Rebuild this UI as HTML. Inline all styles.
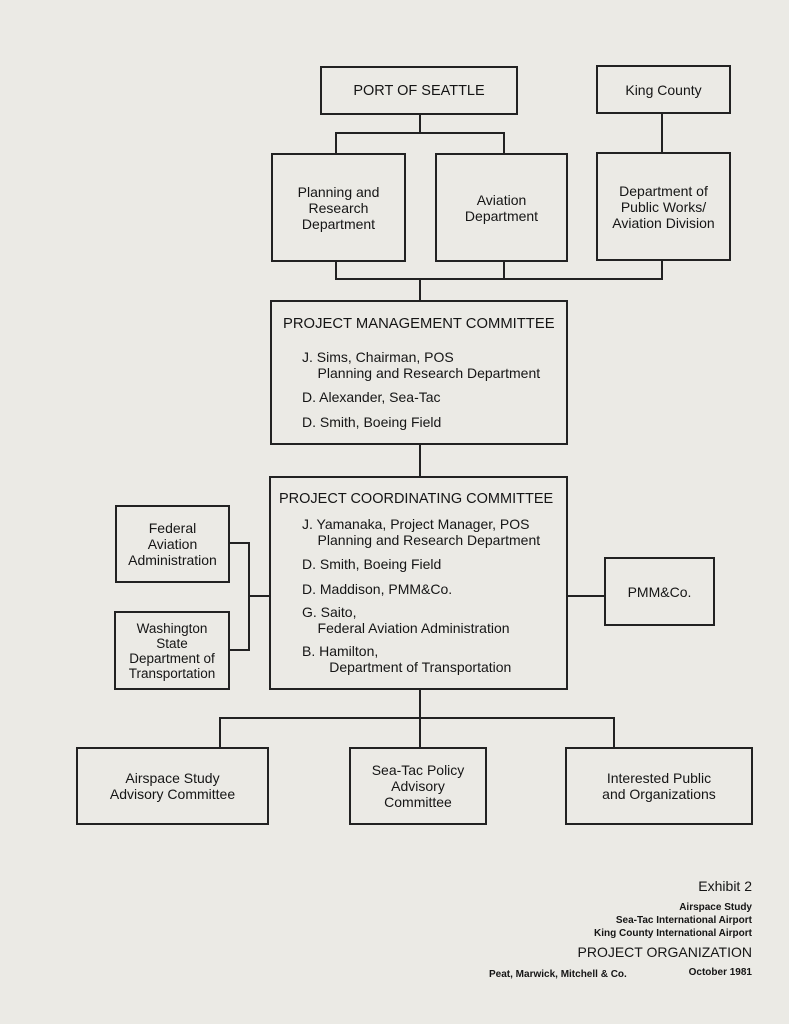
<!DOCTYPE html>
<html><head><meta charset="utf-8"><style>
body{margin:0;background:#ebeae5;}
.w{position:relative;width:789px;height:1024px;font-family:"Liberation Sans",sans-serif;color:#151515;}
.b{position:absolute;border:2px solid #222;box-sizing:border-box;display:flex;align-items:center;justify-content:center;text-align:center;font-size:14px;line-height:16px;}
.l{position:absolute;background:#222;}
.t{position:absolute;font-size:14px;line-height:16px;white-space:nowrap;}
.r{position:absolute;right:37px;text-align:right;white-space:nowrap;}
</style></head><body><div class="w">
<div class="b" style="left:320px;top:66px;width:198px;height:49px;font-size:14.5px">PORT OF SEATTLE</div>
<div class="b" style="left:596px;top:65px;width:135px;height:49px">King County</div>
<div class="b" style="left:271px;top:153px;width:135px;height:109px">Planning and<br>Research<br>Department</div>
<div class="b" style="left:435px;top:153px;width:133px;height:109px">Aviation<br>Department</div>
<div class="b" style="left:596px;top:152px;width:135px;height:109px">Department of<br>Public Works/<br>Aviation Division</div>
<div class="l" style="left:419px;top:114px;width:2px;height:20px"></div>
<div class="l" style="left:335px;top:132px;width:170px;height:2px"></div>
<div class="l" style="left:335px;top:132px;width:2px;height:21px"></div>
<div class="l" style="left:503px;top:132px;width:2px;height:21px"></div>
<div class="l" style="left:661px;top:113px;width:2px;height:39px"></div>
<div class="l" style="left:335px;top:261px;width:2px;height:19px"></div>
<div class="l" style="left:503px;top:261px;width:2px;height:19px"></div>
<div class="l" style="left:661px;top:260px;width:2px;height:20px"></div>
<div class="l" style="left:335px;top:278px;width:328px;height:2px"></div>
<div class="l" style="left:419px;top:278px;width:2px;height:22px"></div>
<div class="b" style="left:270px;top:300px;width:298px;height:145px"></div>
<div class="t" style="left:283px;top:316px;font-size:14.8px">PROJECT MANAGEMENT COMMITTEE</div>
<div class="t" style="left:302px;top:349px">J. Sims, Chairman, POS<br>&nbsp;&nbsp;&nbsp;&nbsp;Planning and Research Department</div>
<div class="t" style="left:302px;top:389px">D. Alexander, Sea-Tac</div>
<div class="t" style="left:302px;top:414px">D. Smith, Boeing Field</div>
<div class="l" style="left:419px;top:444px;width:2px;height:32px"></div>
<div class="b" style="left:269px;top:476px;width:299px;height:214px"></div>
<div class="t" style="left:279px;top:491px;font-size:14.5px">PROJECT COORDINATING COMMITTEE</div>
<div class="t" style="left:302px;top:516px">J. Yamanaka, Project Manager, POS<br>&nbsp;&nbsp;&nbsp;&nbsp;Planning and Research Department</div>
<div class="t" style="left:302px;top:556px">D. Smith, Boeing Field</div>
<div class="t" style="left:302px;top:581px">D. Maddison, PMM&amp;Co.</div>
<div class="t" style="left:302px;top:604px">G. Saito,<br>&nbsp;&nbsp;&nbsp;&nbsp;Federal Aviation Administration</div>
<div class="t" style="left:302px;top:643px">B. Hamilton,<br>&nbsp;&nbsp;&nbsp;&nbsp;&nbsp;&nbsp;&nbsp;Department of Transportation</div>
<div class="b" style="left:115px;top:505px;width:115px;height:78px">Federal<br>Aviation<br>Administration</div>
<div class="b" style="left:114px;top:611px;width:116px;height:79px;font-size:13.5px;line-height:15px">Washington<br>State<br>Department of<br>Transportation</div>
<div class="l" style="left:229px;top:542px;width:21px;height:2px"></div>
<div class="l" style="left:229px;top:649px;width:21px;height:2px"></div>
<div class="l" style="left:248px;top:542px;width:2px;height:109px"></div>
<div class="l" style="left:248px;top:595px;width:21px;height:2px"></div>
<div class="b" style="left:604px;top:557px;width:111px;height:69px">PMM&amp;Co.</div>
<div class="l" style="left:567px;top:595px;width:37px;height:2px"></div>
<div class="l" style="left:419px;top:689px;width:2px;height:30px"></div>
<div class="l" style="left:219px;top:717px;width:396px;height:2px"></div>
<div class="l" style="left:219px;top:717px;width:2px;height:30px"></div>
<div class="l" style="left:419px;top:717px;width:2px;height:30px"></div>
<div class="l" style="left:613px;top:717px;width:2px;height:30px"></div>
<div class="b" style="left:76px;top:747px;width:193px;height:78px">Airspace Study<br>Advisory Committee</div>
<div class="b" style="left:349px;top:747px;width:138px;height:78px">Sea-Tac Policy<br>Advisory<br>Committee</div>
<div class="b" style="left:565px;top:747px;width:188px;height:78px">Interested Public<br>and Organizations</div>
<div class="r" style="top:878px;font-size:14px">Exhibit 2</div>
<div class="r" style="top:902px;font-size:10px;font-weight:bold">Airspace Study</div>
<div class="r" style="top:915px;font-size:10px;font-weight:bold">Sea-Tac International Airport</div>
<div class="r" style="top:928px;font-size:10px;font-weight:bold">King County International Airport</div>
<div class="r" style="top:944px;font-size:14px">PROJECT ORGANIZATION</div>
<div class="t" style="left:489px;top:967px;font-size:10px;font-weight:bold">Peat, Marwick, Mitchell &amp; Co.</div>
<div class="r" style="top:967px;font-size:10px;font-weight:bold">October 1981</div>
</div></body></html>
